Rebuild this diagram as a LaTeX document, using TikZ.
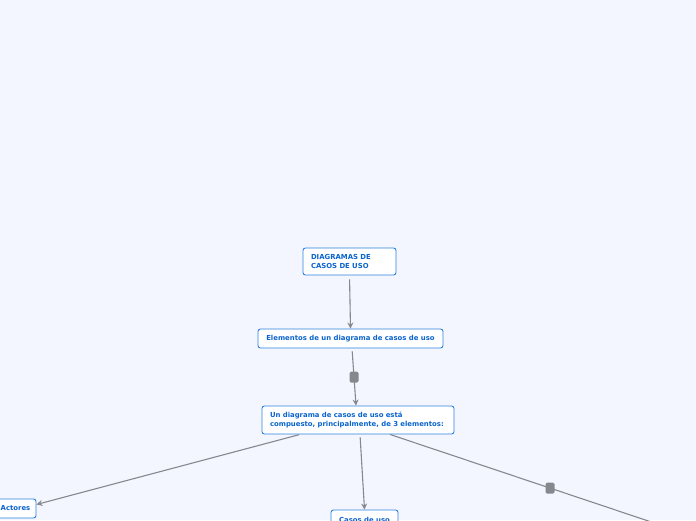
\documentclass[tikz,border=0pt]{standalone}
\usepackage{fontspec}
\setmainfont{DejaVu Sans}
\usetikzlibrary{arrows.meta}
\definecolor{bg}{RGB}{243,246,254}
\definecolor{boxblue}{RGB}{45,130,225}
\definecolor{txtblue}{RGB}{10,100,205}
\definecolor{linegrey}{RGB}{135,136,142}
\tikzset{
  box/.style={draw=boxblue, fill=white, rounded corners=2.5pt, line width=0.9pt,
    font=\fontsize{6.9}{9}\selectfont\bfseries, text=txtblue, inner sep=0pt},
  conn/.style={draw=linegrey, line width=1.1pt, -{Stealth[length=6pt,width=6pt]}},
  marker/.style={fill=linegrey, rounded corners=1.5pt, minimum width=9pt, minimum height=11pt, inner sep=0pt}
}
\begin{document}
\begin{tikzpicture}[x=1pt,y=-1pt]
\fill[bg] (0,0) rectangle (696,520);
\useasboundingbox (0,0) rectangle (696,520);
\clip (0,0) rectangle (696,520);
\node[box, text width=77pt, align=left, minimum height=27pt, inner xsep=8pt] (top) at (349.5,261.5) {DIAGRAMAS DE\\CASOS DE USO};
\node[box, minimum width=185pt, minimum height=19pt] (elem) at (350.5,338.5) {Elementos de un diagrama de casos de uso};
\node[box, text width=176pt, align=left, minimum height=28pt, inner xsep=8pt] (un) at (358,420) {Un diagrama de casos de uso está\\compuesto, principalmente, de 3 elementos:};
\node[box, minimum width=41pt, minimum height=19pt] (act) at (15.5,508.5) {Actores};
\node[box, minimum width=67pt, minimum height=20pt] (cas) at (364.5,520) {Casos de uso};
\coordinate (rt) at (720,545);
\draw[conn, shorten <=4pt] (top.south) -- (elem.north);
\draw[conn, shorten <=3pt] ([xshift=1.5pt]elem.south) -- node[marker]{} ([xshift=-2pt]un.north);
\draw[conn, shorten <=1pt] ([xshift=-58pt]un.south) -- ([yshift=4pt]act.east);
\draw[conn, shorten <=3pt] ([xshift=2pt]un.south) -- (cas.north);
\draw[draw=linegrey, line width=1.1pt] ([xshift=32pt]un.south) -- node[marker, pos=0.485]{} (rt);
\end{tikzpicture}
\end{document}
